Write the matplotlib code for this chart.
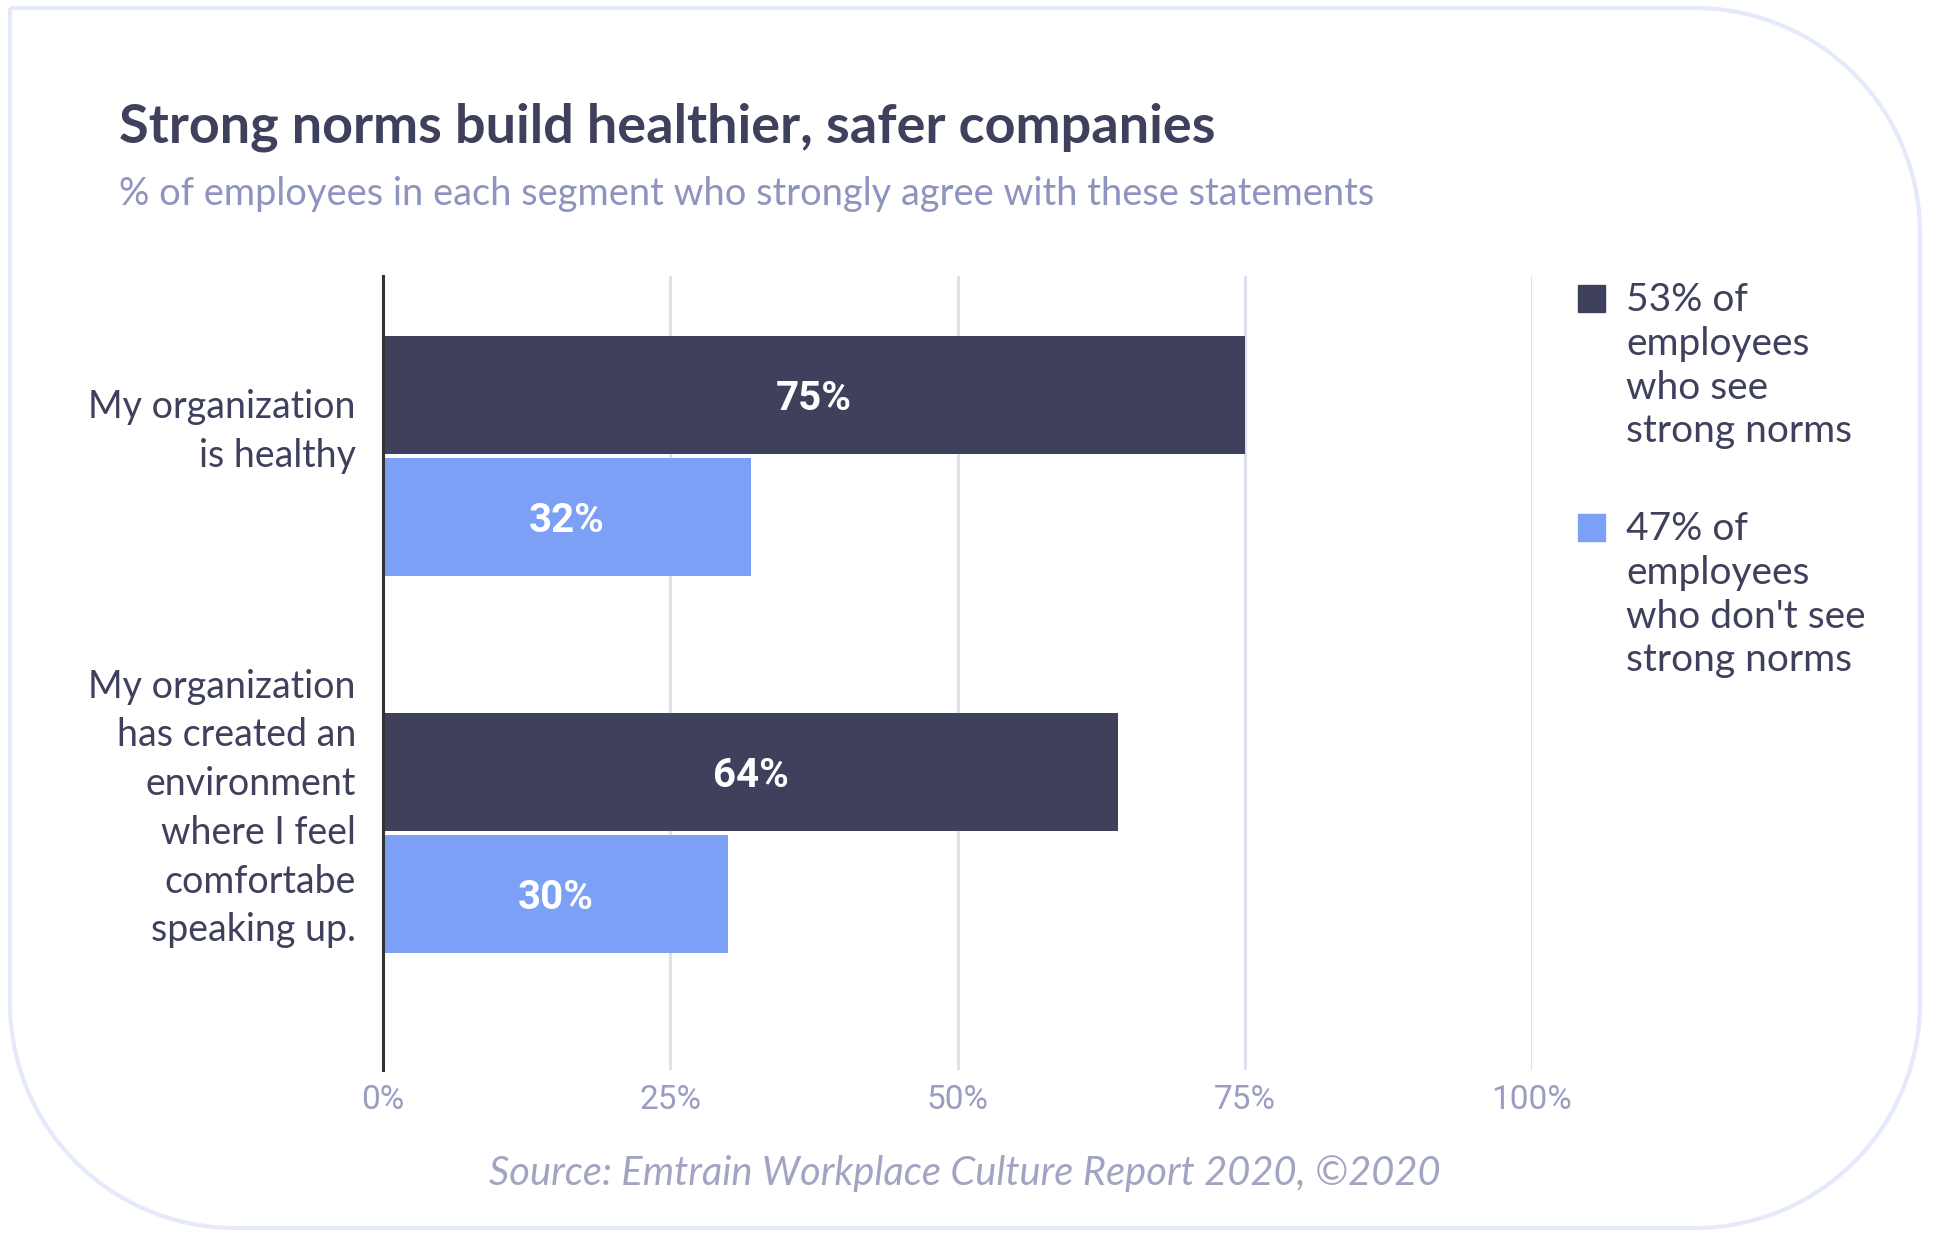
import numpy as np
import matplotlib
matplotlib.use("Agg")
import matplotlib.pyplot as plt
from matplotlib.path import Path
from matplotlib.patches import PathPatch, Rectangle
from matplotlib.transforms import IdentityTransform

# data
statements = ["My organization\nis healthy",
              "My organization\nhas created an\nenvironment\nwhere I feel\ncomfortabe\nspeaking up."]
strong_norms = [75, 64]
weak_norms = [32, 30]
series_labels = ["53% of\nemployees\nwho see\nstrong norms",
                 "47% of\nemployees\nwho don't see\nstrong norms"]
ticks = [0, 25, 50, 75, 100]
tick_labels = ["0%", "25%", "50%", "75%", "100%"]

DARK = "#3f405c"
LIGHT = "#7ba0f5"
W, H = 1934, 1234

fig = plt.figure(figsize=(W / 100, H / 100), dpi=100)
fig.patch.set_facecolor("white")


def card_path(x0, y0, x1, y1, r):
    # top-left square, other corners rounded (pixel coords, origin bottom-left)
    def arc(cx, cy, a0, a1):
        t = np.linspace(np.radians(a0), np.radians(a1), 40)
        return np.column_stack([cx + r * np.cos(t), cy + r * np.sin(t)])
    pts = [np.array([[x0, y1]]),
           arc(x1 - r, y1 - r, 90, 0),
           arc(x1 - r, y0 + r, 0, -90),
           arc(x0 + r, y0 + r, 270, 180),
           np.array([[x0, y1]])]
    return Path(np.vstack(pts))


card = PathPatch(card_path(10, 6, 1920, 1226, 225), facecolor="white",
                 edgecolor="#e4eafb", lw=3, transform=IdentityTransform(), zorder=-5)
fig.patches.append(card)

ax = fig.add_axes([383 / W, (H - 1070) / H, (1532 - 383) / W, (1070 - 276) / H])
ax.set_facecolor("none")
ax.set_zorder(2)

y = np.arange(len(statements))
h = 0.313
off = 0.161
ax.barh(y - off, strong_norms, height=h, color=DARK, zorder=3)
ax.barh(y + off, weak_norms, height=h, color=LIGHT, zorder=3)

for yi, v in zip(y, strong_norms):
    ax.text(v / 2, yi - off, f"{v}%", ha="center", va="center_baseline", color="white",
            fontsize=29, fontweight="bold", family="Roboto", zorder=4)
for yi, v in zip(y, weak_norms):
    ax.text(v / 2, yi + off, f"{v}%", ha="center", va="center_baseline", color="white",
            fontsize=29, fontweight="bold", family="Roboto", zorder=4)

ax.set_xlim(0, 100)
ax.set_ylim(1.629, -0.477)
ax.set_xticks(ticks)
ax.set_xticklabels(tick_labels, family="Roboto", fontsize=24, color="#9a9dc2")
ax.tick_params(axis="x", length=0, pad=10)
ax.set_yticks([])
for s in ["top", "right", "bottom"]:
    ax.spines[s].set_visible(False)
ax.spines["left"].set_color("#333333")
ax.spines["left"].set_linewidth(2.2)
ax.spines["left"].set_zorder(5)
ax.grid(axis="x", color="#e0e0ec", lw=2.2, zorder=0)
ax.set_axisbelow(True)

for yi, lab in zip(y, statements):
    ax.annotate(lab, xy=(0, yi), xycoords=("axes fraction", "data"),
                xytext=(-19.5, 17.5), textcoords="offset points",
                ha="right", va="center", fontsize=27, color=DARK,
                family="Lato", linespacing=1.44)

# title block
fig.text(119 / W, (H - 142) / H, "Strong norms build healthier, safer companies",
         fontsize=38.9, fontweight="bold", color=DARK, family="Lato", va="baseline")
fig.text(119 / W, (H - 205) / H,
         "% of employees in each segment who strongly agree with these statements",
         fontsize=27.4, color="#8e93c0", family="Lato", va="baseline")

# legend
leg_y = [312, 541]
for yy, lab, col in zip(leg_y, series_labels, [DARK, LIGHT]):
    fig.patches.append(Rectangle((1578 / W, (H - yy) / H), 27 / W, 27 / H,
                                 transform=fig.transFigure, color=col))
    fig.text(1626 / W, (H - yy + 30) / H, lab, fontsize=28, color=DARK, family="Lato",
             va="top", ha="left", linespacing=1.27)

fig.text(965 / W, (H - 1185) / H, "Source: Emtrain Workplace Culture Report 2020, \u00a92020",
         fontsize=28.7, style="italic", color="#a2a5c2", family="Lato",
         ha="center", va="baseline")

fig.savefig("out.png", dpi=100, facecolor="white")
